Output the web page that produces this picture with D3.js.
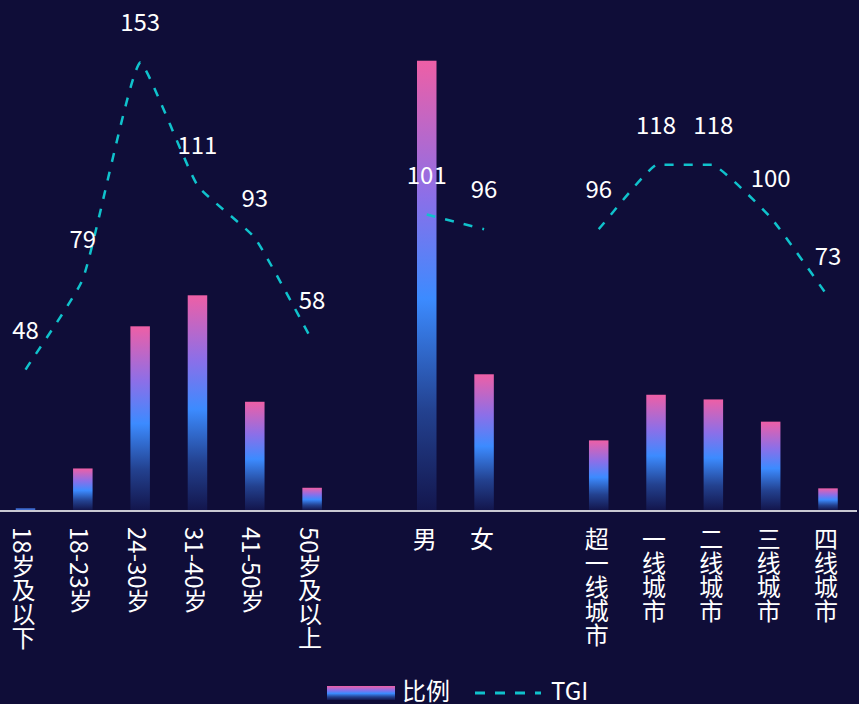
<!DOCTYPE html>
<html>
<head>
<meta charset="utf-8">
<script src="https://cdn.jsdelivr.net/npm/d3@7/dist/d3.min.js"></script>
<style>
  html, body { margin: 0; padding: 0; background: #0f0d38; }
  svg { display: block; }
  text { font-family: "Noto Sans CJK SC", "Noto Sans", sans-serif; fill: #ffffff; }
</style>
</head>
<body>
<svg id="chart" width="859" height="704"></svg>
<script>
// ---- data ----
const categories = ["18岁及以下", "18-23岁", "24-30岁", "31-40岁", "41-50岁", "50岁及以上", "", "男", "女", "", "超一线城市", "一线城市", "二线城市", "三线城市", "四线城市"];
const ratioValues = [0.3, 7.1, 31.4, 36.7, 18.5, 3.8, null, 76.8, 23.2, null, 11.9, 19.7, 18.9, 15.1, 3.7];
const tgiValues = [48, 79, 153, 111, 93, 58, null, 101, 96, null, 96, 118, 118, 100, 73];
const legendLabels = ["比例", "TGI"];

// ---- layout ----
const W = 859, H = 704;
const baseY = 510, topY = 42;
const svg = d3.select("#chart");

svg.append("rect").attr("width", W).attr("height", H).attr("fill", "#0f0d38");

const defs = svg.append("defs");
const grad = defs.append("linearGradient").attr("id", "barGrad")
  .attr("x1", 0).attr("y1", 0).attr("x2", 0).attr("y2", 1);
[[0, "#ee5fa6"], [0.3, "#8c6fe8"], [0.53, "#3c8bff"], [0.78, "#23418f"], [1, "#13164d"]]
  .forEach(([o, c]) => grad.append("stop").attr("offset", o).attr("stop-color", c));

const idx = d3.range(categories.length);
const x = d3.scalePoint().domain(idx).range([25.5, 828]);
const y = d3.scaleLinear().domain([0, 80]).range([baseY, topY]);
const y2 = d3.scaleLinear().domain([0, 160]).range([baseY, topY]);
const barW = 19.5;

// bars
svg.append("g").selectAll("rect")
  .data(idx.filter(i => ratioValues[i] != null))
  .join("rect")
  .attr("x", i => x(i) - barW / 2)
  .attr("y", i => y(ratioValues[i]))
  .attr("width", barW)
  .attr("height", i => baseY - y(ratioValues[i]))
  .attr("fill", i => (baseY - y(ratioValues[i])) < 4 ? "#3f6cd0" : "url(#barGrad)");

// axis line
svg.append("line").attr("x1", 0).attr("x2", 857).attr("y1", 511).attr("y2", 511)
  .attr("stroke", "#c9c9d2").attr("stroke-width", 2);

// x labels (vertical)
svg.append("g").selectAll("text")
  .data(idx.filter(i => categories[i] !== ""))
  .join("text")
  .attr("x", i => x(i) - 2)
  .attr("y", 527)
  .style("writing-mode", "vertical-rl")
  .attr("font-size", 24)
  .text(i => categories[i]);

// smoothed curve with control points clamped per segment (no overshoot)
function smoothClamped(context) {
  let pts = [];
  return {
    areaStart() {}, areaEnd() {},
    lineStart() { pts = []; },
    point(px, py) { pts.push([+px, +py]); },
    lineEnd() {
      const s = 0.15, n = pts.length;
      if (!n) return;
      context.moveTo(pts[0][0], pts[0][1]);
      const cps = pts.map((p, k) => {
        const prev = pts[Math.max(0, k - 1)], next = pts[Math.min(n - 1, k + 1)];
        const d0 = Math.hypot(p[0] - prev[0], p[1] - prev[1]);
        const d1 = Math.hypot(next[0] - p[0], next[1] - p[1]);
        const vx = next[0] - prev[0], vy = next[1] - prev[1];
        const sum = d0 + d1 || 1;
        return {
          in: [p[0] - vx * s * d0 / sum, p[1] - vy * s * d0 / sum],
          out: [p[0] + vx * s * d1 / sum, p[1] + vy * s * d1 / sum]
        };
      });
      for (let k = 0; k < n - 1; k++) {
        const a = pts[k], b = pts[k + 1];
        const lo = Math.min(a[1], b[1]), hi = Math.max(a[1], b[1]);
        const c1 = [cps[k].out[0], Math.max(lo, Math.min(hi, cps[k].out[1]))];
        const c2 = [cps[k + 1].in[0], Math.max(lo, Math.min(hi, cps[k + 1].in[1]))];
        context.bezierCurveTo(c1[0], c1[1], c2[0], c2[1], b[0], b[1]);
      }
    }
  };
}

// TGI line
const line = d3.line()
  .defined(i => tgiValues[i] != null)
  .x(i => x(i))
  .y(i => y2(tgiValues[i]))
  .curve(smoothClamped);
svg.append("path").datum(idx)
  .attr("d", line)
  .attr("fill", "none")
  .attr("stroke", "#10c2cc")
  .attr("stroke-width", 2.5)
  .attr("stroke-dasharray", "9 10");

// TGI labels
svg.append("g").selectAll("text")
  .data(idx.filter(i => tgiValues[i] != null))
  .join("text")
  .attr("x", i => x(i))
  .attr("y", i => y2(tgiValues[i]) - 31)
  .attr("text-anchor", "middle")
  .attr("font-size", 24)
  .text(i => tgiValues[i]);

// legend
const lg = svg.append("g");
lg.append("rect").attr("x", 327).attr("y", 686).attr("width", 68).attr("height", 14)
  .attr("fill", "url(#barGrad)");
lg.append("text").attr("x", 402).attr("y", 700).attr("font-size", 24).text(legendLabels[0]);
lg.append("line").attr("x1", 475).attr("x2", 541).attr("y1", 693).attr("y2", 693)
  .attr("stroke", "#10c2cc").attr("stroke-width", 3).attr("stroke-dasharray", "10 10");
lg.append("text").attr("x", 551).attr("y", 700).attr("font-size", 24).text(legendLabels[1]);
</script>
</body>
</html>
